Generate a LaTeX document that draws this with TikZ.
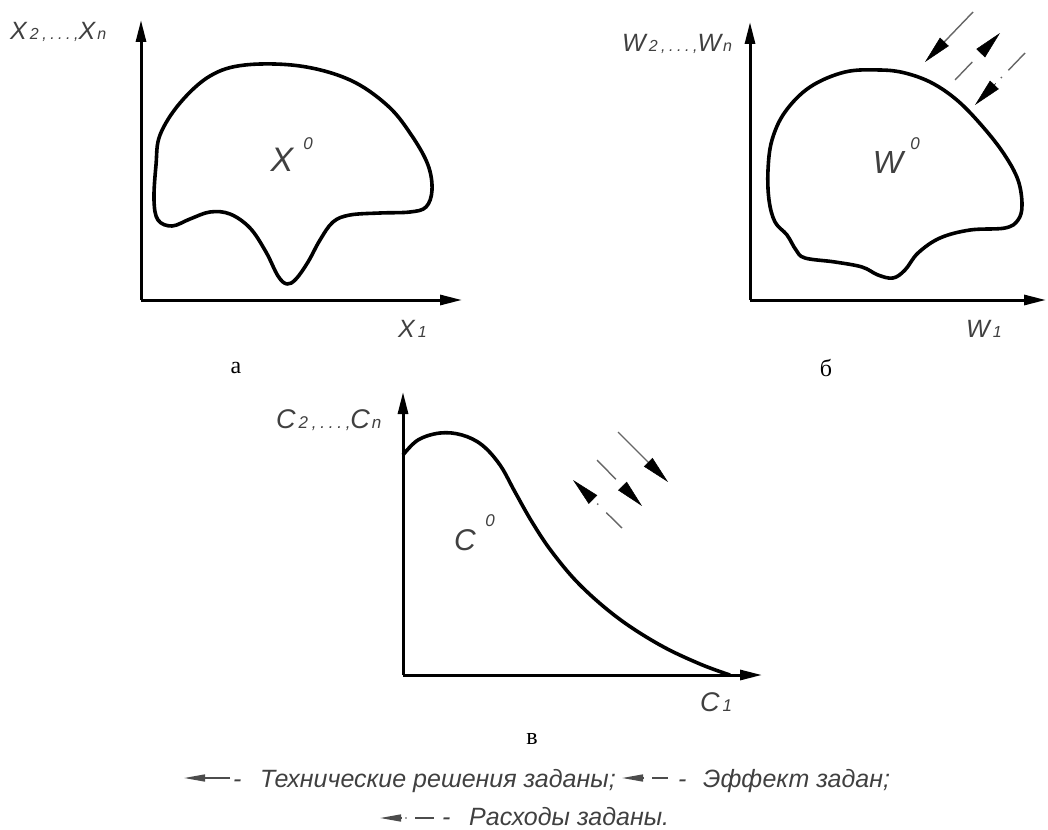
\documentclass[tikz,border=0pt]{standalone}
\usepackage{fontspec}
\setmainfont{Liberation Serif}
\newfontfamily\gost{Liberation Sans}
\newfontfamily\gostsp[LetterSpace=22]{Liberation Sans}
\usetikzlibrary{arrows.meta,calc}
\newcommand\Lbig{\fontsize{25}{25}\selectfont}
\newcommand\Lsmall{\fontsize{16}{16}\selectfont}
\newcommand\Lcbig{\fontsize{27}{27}\selectfont}
\newcommand\Lcsmall{\fontsize{17}{17}\selectfont}
\newcommand\Lzero{\fontsize{17}{17}\selectfont}
\newcommand\Leg{\fontsize{25}{25}\selectfont}
\begin{document}
\begin{tikzpicture}[x=1pt,y=-1pt,
  axisline/.style={line width=3pt,-{Triangle[length=22pt,width=10pt]}},
  blob/.style={line width=3.6pt,line join=round},
  thinline/.style={line width=1.4pt,draw=black!60},
  headonly/.style={-{Triangle[length=28pt,width=12pt]},line width=0.5pt},
  leghead/.style={-{Triangle[length=21pt,width=7pt]},line width=1.5pt,draw=black!70},
  lab/.style={font=\gost\itshape,text=black!75,inner sep=0pt},
  axlab/.style={font=\gostsp\itshape,text=black!75,inner sep=0pt},
  letter/.style={font=\fontsize{24}{24}\selectfont,inner sep=0pt},
]
\useasboundingbox (0,0) rectangle (1048,829);

% ---------- panel a ----------
\coordinate (oa) at (141,300);
\coordinate (ya) at (141,20);
\coordinate (xa) at (462,300);
\draw[axisline] (oa) -- (ya);
\draw[axisline] (oa) -- (xa);
\node[axlab,anchor=base west] (laY) at (10,40) {\Lbig X\hspace{3pt}{\Lsmall 2,...,}X\hspace{2pt}{\Lsmall n}};
\node[axlab,anchor=base west] (laX) at (398,337) {\Lbig X\hspace{3pt}{\Lsmall 1}};
\draw[blob] plot[smooth cycle,tension=0.6] coordinates {(245,65) (300,66) (350,80) (388,106) (412,136) (428,165) (432,190) (426,207) (410,212) (380,213) (350,215) (333,222) (320,240) (308,262) (296,279) (287,284) (278,276) (266,252) (250,228) (230,214) (210,212) (190,219) (172,226) (158,220) (154,200) (156,165) (160,135) (180,103) (210,76)};
\node[lab,font=\gost\itshape\fontsize{34}{34}\selectfont,anchor=center] (X0) at (282,160) {X};
\node[lab,anchor=center] (X0s) at (308,144) {\Lzero 0};
\node[letter] (la) at (236,368) {а};

% ---------- panel b ----------
\coordinate (ob) at (750,300);
\coordinate (yb) at (750,22);
\coordinate (xb) at (1046,300);
\draw[axisline] (ob) -- (yb);
\draw[axisline] (ob) -- (xb);
\node[axlab,anchor=base west] (lbY) at (622,52) {\Lbig W\hspace{3pt}{\Lsmall 2,...,}W\hspace{2pt}{\Lsmall n}};
\node[axlab,anchor=base west] (lbX) at (966,337) {\Lbig W\hspace{3pt}{\Lsmall 1}};
\draw[blob] plot[smooth cycle,tension=0.6] coordinates {(845,72) (880,70) (905,73) (932,83) (958,101) (983,127) (1004,154) (1018,180) (1022,205) (1018,220) (1005,228) (970,230) (940,238) (918,253) (905,270) (893,278) (878,275) (862,267) (835,262) (805,258) (796,250) (787,235) (775,222) (769,200) (768,170) (772,140) (785,112) (810,87)};
\node[lab,font=\gost\itshape\fontsize{32}{32}\selectfont,anchor=center] (W0) at (888,162) {W};
\node[lab,anchor=center] (W0s) at (915,144) {\Lzero 0};
\node[letter] (lb) at (826,368) {б};
% arrows in b
\coordinate (b1t) at (973,12);  \coordinate (b1h) at (925,62);
\draw[thinline] (b1t) -- ($(b1h)!26pt!(b1t)$);
\draw[headonly] ($(b1h)!28pt!(b1t)$) -- (b1h);
\coordinate (b2t) at (955,80);  \coordinate (b2h) at (1000,33);
\draw[thinline] (b2t) -- ($(b2t)!25pt!(b2h)$);
\draw[headonly] ($(b2h)!27pt!(b2t)$) -- (b2h);
\coordinate (b3t) at (1025,53); \coordinate (b3h) at (975,105);
\draw[thinline] (b3t) -- ($(b3t)!24pt!(b3h)$);
\fill[black!60] ($(b3t)!34pt!(b3h)$) circle (1pt);
\draw[headonly] ($(b3h)!30pt!(b3t)$) -- (b3h);

% ---------- panel v ----------
\coordinate (oc) at (403,675);
\coordinate (yc) at (403,392);
\coordinate (xc) at (762,675);
\draw[axisline] (oc) -- (yc);
\draw[axisline] (oc) -- (xc);
\node[axlab,anchor=base west] (lcY) at (276,428) {\Lcbig C\hspace{3pt}{\Lcsmall 2,...,}C\hspace{2pt}{\Lcsmall n}};
\node[axlab,anchor=base west] (lcX) at (700,711) {\Lcbig C\hspace{3pt}{\Lcsmall 1}};
\draw[blob] plot[smooth,tension=0.6] coordinates {(403,455) (418,440) (440,433) (462,435) (482,445) (500,465) (515,492) (532,522) (552,552) (580,585) (618,618) (660,645) (700,664) (730,675)};
\node[lab,font=\gost\itshape\fontsize{30}{30}\selectfont,anchor=center] (C0) at (465,540) {C};
\node[lab,anchor=center] (C0s) at (490,521) {\Lzero 0};
\node[letter] (lc) at (532,739) {в};
% arrows in v
\coordinate (c1t) at (618,432); \coordinate (c1h) at (668,482);
\draw[thinline] (c1t) -- ($(c1h)!26pt!(c1t)$);
\draw[headonly] ($(c1h)!28pt!(c1t)$) -- (c1h);
\coordinate (c2t) at (597,460); \coordinate (c2h) at (642,506);
\draw[thinline] (c2t) -- ($(c2t)!27pt!(c2h)$);
\draw[headonly] ($(c2h)!27pt!(c2t)$) -- (c2h);
\coordinate (c3t) at (622,528); \coordinate (c3h) at (573,480);
\draw[thinline] (c3t) -- ($(c3t)!22pt!(c3h)$);
\fill[black!60] ($(c3t)!34pt!(c3h)$) circle (1pt);
\draw[headonly] ($(c3h)!28pt!(c3t)$) -- (c3h);

% ---------- legend ----------
\coordinate (g1a) at (230,778); \coordinate (g1b) at (184,778);
\draw[leghead] (g1a) -- (g1b);
\node[lab,anchor=base west] (g1d) at (233,787) {\Leg -};
\node[lab,anchor=base west] (g1x) at (260,787) {\Leg Технические решения заданы;};
\coordinate (g2a) at (644,778); \coordinate (g2b) at (622,778);
\draw[leghead] (g2a) -- (g2b);
\draw[line width=1.5pt,draw=black!70] (652,778) -- (668,778);
\node[lab,anchor=base west] (g2d) at (678,787) {\Leg -};
\node[lab,anchor=base west] (g2x) at (703,787) {\Leg Эффект задан;};
\coordinate (g3a) at (401,818); \coordinate (g3b) at (380,818);
\draw[leghead] (g3a) -- (g3b);
\fill[black!70] (406,818) circle (0.9pt);
\draw[line width=1.5pt,draw=black!70] (415,818) -- (434,818);
\node[lab,anchor=base west] (g3d) at (442,825) {\Leg -};
\node[lab,anchor=base west] (g3x) at (469,825) {\Leg Расходы заданы.};
\end{tikzpicture}
\end{document}
